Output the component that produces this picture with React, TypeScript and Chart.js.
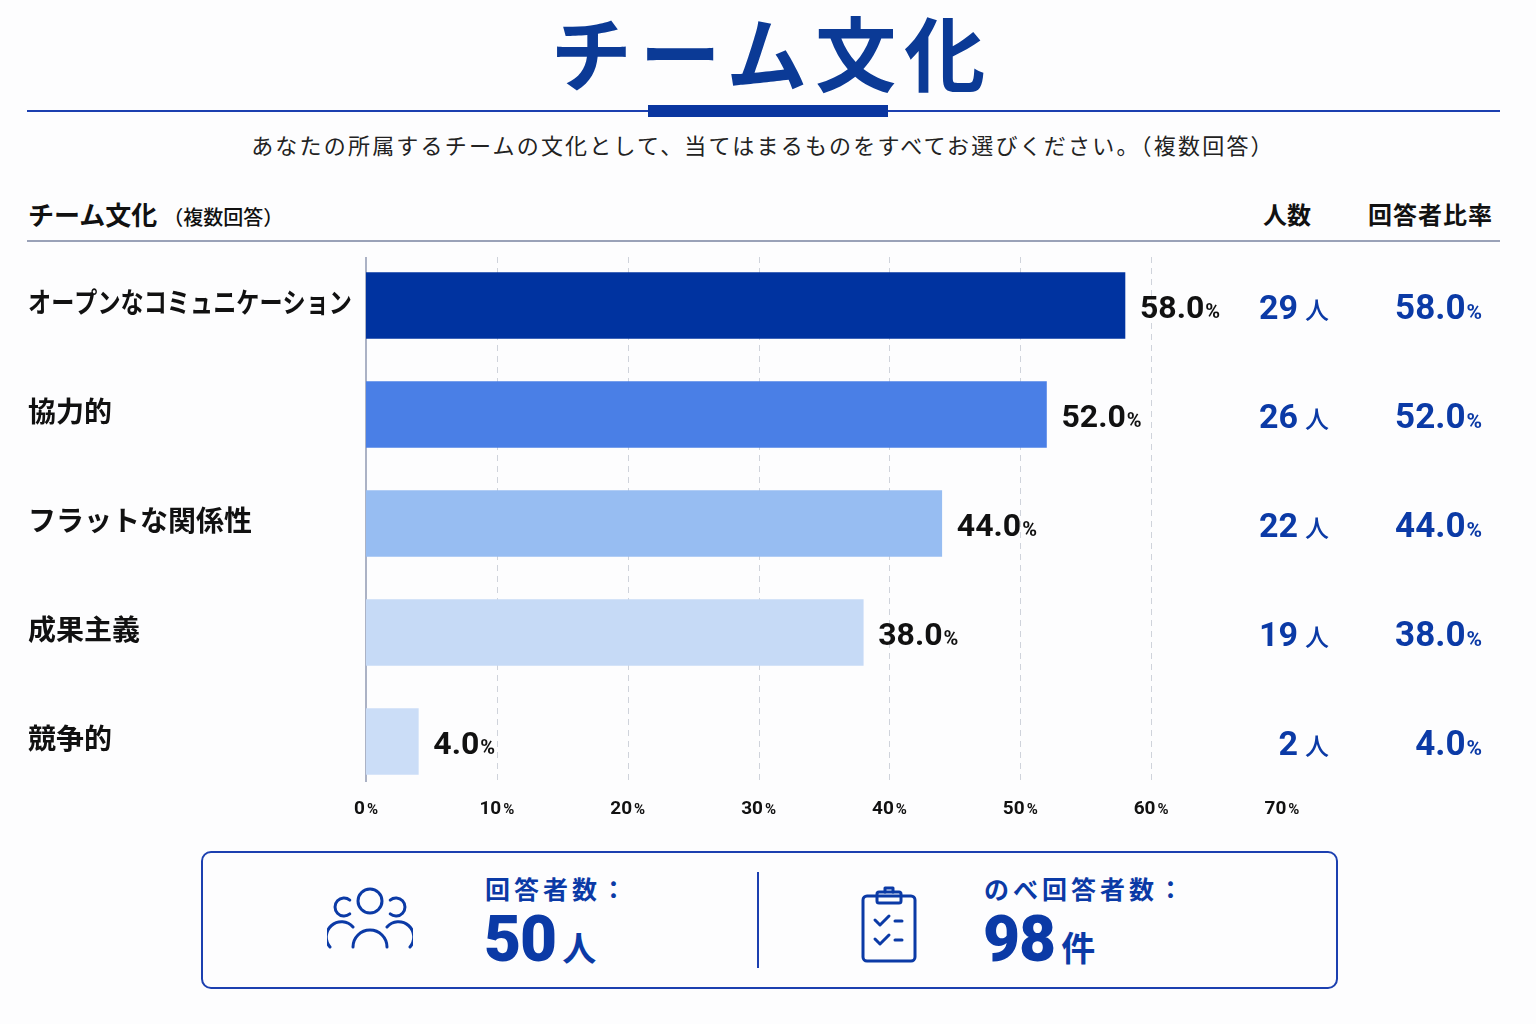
import React, { useEffect, useRef } from "react";
import { Chart, registerables } from "chart.js";

Chart.register(...registerables);

const categories = ["オープンなコミュニケーション", "協力的", "フラットな関係性", "成果主義", "競争的"];
const percents = [58.0, 52.0, 44.0, 38.0, 4.0];
const counts = [29, 26, 22, 19, 2];
const barColors = ["#0033A0", "#4A7FE6", "#97BDF2", "#C6DAF6", "#CBDDF7"];
const xTicks = [0, 10, 20, 30, 40, 50, 60, 70];
const totalRespondents = 50;
const totalAnswers = 98;

const JP = '"Noto Sans CJK JP", "Noto Sans", sans-serif';
const NUM = 'Roboto, "DejaVu Sans", sans-serif';
const BLUE = "#0B3AA6";

// draws "58.0" + small "%" on one baseline
function drawNumPct(ctx: CanvasRenderingContext2D, num: string, unit: string, x: number, y: number,
  align: "left" | "right" | "center", bigFont: string, smallFont: string, color: string, gap = 1) {
  ctx.font = bigFont;
  const w1 = ctx.measureText(num).width;
  ctx.font = smallFont;
  const w2 = ctx.measureText(unit).width;
  const total = w1 + gap + w2;
  const start = align === "left" ? x : align === "right" ? x - total : x - total / 2;
  ctx.fillStyle = color;
  ctx.textAlign = "left";
  ctx.textBaseline = "alphabetic";
  ctx.font = bigFont;
  ctx.fillText(num, start, y);
  ctx.font = smallFont;
  ctx.fillText(unit, start + w1 + gap, y);
}

const overlayPlugin = {
  id: "overlay",
  beforeDatasetsDraw(chart: any) {
    const { ctx, chartArea, scales } = chart;
    const xs = scales.x;
    const ys = scales.y;
    const top = chartArea.top + 6;
    const bottom = chartArea.bottom - 14;
    ctx.save();
    ctx.strokeStyle = "#cfd3db";
    ctx.lineWidth = 1;
    ctx.setLineDash([6, 5]);
    xTicks.forEach((t) => {
      if (t === 0 || t === 70) return;
      const px = Math.round(xs.getPixelForValue(t)) + 0.5;
      ctx.beginPath();
      ctx.moveTo(px, top);
      ctx.lineTo(px, bottom);
      ctx.stroke();
    });
    ctx.setLineDash([]);
    ctx.strokeStyle = "#8f98b2";
    ctx.lineWidth = 1.5;
    const x0 = xs.getPixelForValue(0);
    ctx.beginPath();
    ctx.moveTo(x0, top);
    ctx.lineTo(x0, bottom);
    ctx.stroke();
    // x tick labels
    xTicks.forEach((t) => {
      drawNumPct(ctx, String(t), "%", xs.getPixelForValue(t), chartArea.bottom + 18,
        "center", `700 19px ${NUM}`, `700 15px ${NUM}`, "#111", 2);
    });
    // category labels, squeezed when longer than the label column
    const maxW = x0 - 28 - 14;
    categories.forEach((c, i) => {
      const y = ys.getPixelForValue(i) - 3;
      ctx.font = `700 28px ${JP}`;
      const w = ctx.measureText(c).width;
      const k = w > maxW ? maxW / w : 1;
      ctx.save();
      ctx.translate(28, y);
      ctx.scale(k, 1);
      ctx.fillStyle = "#111";
      ctx.textAlign = "left";
      ctx.textBaseline = "middle";
      ctx.fillText(c, 0, 0);
      ctx.restore();
    });
    ctx.restore();
  },
  afterDatasetsDraw(chart: any) {
    const { ctx } = chart;
    const meta = chart.getDatasetMeta(0);
    ctx.save();
    meta.data.forEach((bar: any, i: number) => {
      const y = bar.y;
      drawNumPct(ctx, percents[i].toFixed(1), "%", bar.x + 15, y + 12,
        "left", `700 32px ${NUM}`, `700 20px ${NUM}`, "#111");
      // 人数 column
      ctx.font = `500 24px ${JP}`;
      ctx.fillStyle = BLUE;
      ctx.textAlign = "right";
      ctx.textBaseline = "alphabetic";
      ctx.fillText("人", 1329, y + 13);
      ctx.font = `700 34px ${NUM}`;
      ctx.fillText(String(counts[i]), 1298, y + 13);
      // 回答者比率 column
      drawNumPct(ctx, percents[i].toFixed(1), "%", 1482, y + 13,
        "right", `700 35px ${NUM}`, `700 21px ${NUM}`, BLUE);
    });
    ctx.restore();
  },
};

function PeopleIcon() {
  return (
    <svg width="86" height="62" viewBox="0 0 86 62" fill="none" stroke={BLUE} strokeWidth="3" strokeLinecap="round">
      <circle cx="43" cy="14" r="12" />
      <path d="M26 60 A17 17 0 0 1 60 60" />
      <path d="M22.8 13.1 A9 9 0 1 0 22.8 26.9" />
      <path d="M63.2 13.1 A9 9 0 1 1 63.2 26.9" />
      <path d="M3 60 A14 14 0 0 1 26 40" />
      <path d="M83 60 A14 14 0 0 0 60 40" />
    </svg>
  );
}

function ClipboardIcon() {
  return (
    <svg width="58" height="80" viewBox="0 0 58 80" fill="none" stroke={BLUE} strokeWidth="3" strokeLinecap="round" strokeLinejoin="round">
      <rect x="3" y="12" width="52" height="65" rx="4" />
      <rect x="17" y="8" width="24" height="11" rx="2" />
      <path d="M25 8 V4 H33 V8" />
      <path d="M15 36 l5 5 l9 -9" />
      <path d="M35 37 h7" />
      <path d="M15 55 l5 5 l9 -9" />
      <path d="M35 56 h7" />
    </svg>
  );
}

export default function App() {
  const canvasRef = useRef<HTMLCanvasElement | null>(null);
  const chartRef = useRef<Chart | null>(null);

  useEffect(() => {
    document.body.style.margin = "0";
    if (!canvasRef.current) return;
    if (chartRef.current) {
      chartRef.current.destroy();
      chartRef.current = null;
    }
    const ctx = canvasRef.current.getContext("2d");
    if (!ctx) return;

    chartRef.current = new Chart(ctx, {
      type: "bar",
      data: {
        labels: categories,
        datasets: [
          {
            data: percents,
            backgroundColor: barColors,
            borderWidth: 0,
            barThickness: 66,
          },
        ],
      },
      options: {
        indexAxis: "y",
        responsive: false,
        animation: false,
        layout: { padding: { left: 28, right: 254, top: 251, bottom: 198 } },
        plugins: { legend: { display: false }, tooltip: { enabled: false } },
        scales: {
          x: {
            min: 0,
            max: 70,
            grid: { display: false },
            border: { display: false },
            ticks: { display: false, stepSize: 10 },
            afterFit: (scale: any) => {
              scale.height = 30;
            },
          },
          y: {
            grid: { display: false },
            border: { display: false },
            ticks: { display: false },
            afterFit: (scale: any) => {
              scale.width = 338;
            },
          },
        },
      },
      plugins: [overlayPlugin],
    });

    return () => {
      if (chartRef.current) {
        chartRef.current.destroy();
        chartRef.current = null;
      }
    };
  }, []);

  return (
    <div style={{ position: "relative", width: 1536, height: 1024, background: "#fdfdfe", fontFamily: JP, overflow: "hidden" }}>
      {/* title */}
      <div style={{ position: "absolute", left: 0, top: 4, width: 1536, textAlign: "center", fontSize: 81, lineHeight: "92px", fontWeight: 700, letterSpacing: 8, paddingLeft: 8, color: "#0B3A96", boxSizing: "border-box" }}>
        チーム文化
      </div>
      <div style={{ position: "absolute", left: 27, top: 110, width: 1473, height: 2, background: "#1C40B0" }} />
      <div style={{ position: "absolute", left: 648, top: 105, width: 240, height: 12, background: "#0A36A0" }} />
      <div style={{ position: "absolute", left: 0, top: 129, width: 1526, textAlign: "center", fontSize: 22, lineHeight: "30px", letterSpacing: 2.2, color: "#222" }}>
        あなたの所属するチームの文化として、当てはまるものをすべてお選びください。（複数回答）
      </div>

      {/* header row */}
      <div style={{ position: "absolute", left: 28, top: 197, fontSize: 26, lineHeight: "34px", fontWeight: 700, color: "#111", whiteSpace: "nowrap" }}>
        チーム文化<span style={{ fontSize: 20, fontWeight: 500, marginLeft: 6 }}>（複数回答）</span>
      </div>
      <div style={{ position: "absolute", left: 1263, top: 198, fontSize: 24, lineHeight: "32px", fontWeight: 700, color: "#111" }}>人数</div>
      <div style={{ position: "absolute", left: 1368, top: 198, fontSize: 24, lineHeight: "32px", fontWeight: 700, color: "#111", letterSpacing: 1 }}>回答者比率</div>
      <div style={{ position: "absolute", left: 27, top: 240, width: 1473, height: 2, background: "#9aa2b8" }} />

      <canvas ref={canvasRef} width={1536} height={1024} style={{ position: "absolute", left: 0, top: 0, width: 1536, height: 1024 }} />

      {/* summary box */}
      <div style={{ position: "absolute", left: 201, top: 851, width: 1137, height: 138, boxSizing: "border-box", border: "2px solid #1C40B0", borderRadius: 10, background: "#fdfdfe" }}>
        <div style={{ position: "absolute", left: 124, top: 34 }}>
          <PeopleIcon />
        </div>
        <div style={{ position: "absolute", left: 282, top: 18, fontSize: 25, lineHeight: "34px", fontWeight: 700, color: BLUE, letterSpacing: 4 }}>回答者数：</div>
        <div style={{ position: "absolute", left: 281, top: 52, color: BLUE, whiteSpace: "nowrap" }}>
          <span style={{ fontFamily: NUM, fontSize: 64, lineHeight: "70px", fontWeight: 900, letterSpacing: -1 }}>{totalRespondents}</span>
          <span style={{ fontSize: 34, fontWeight: 700, marginLeft: 6 }}>人</span>
        </div>
        <div style={{ position: "absolute", left: 554, top: 19, width: 2, height: 96, background: "#1C40B0" }} />
        <div style={{ position: "absolute", left: 657, top: 31 }}>
          <ClipboardIcon />
        </div>
        <div style={{ position: "absolute", left: 781, top: 18, fontSize: 25, lineHeight: "34px", fontWeight: 700, color: BLUE, letterSpacing: 4 }}>のべ回答者数：</div>
        <div style={{ position: "absolute", left: 780, top: 52, color: BLUE, whiteSpace: "nowrap" }}>
          <span style={{ fontFamily: NUM, fontSize: 64, lineHeight: "70px", fontWeight: 900, letterSpacing: -1 }}>{totalAnswers}</span>
          <span style={{ fontSize: 34, fontWeight: 700, marginLeft: 6 }}>件</span>
        </div>
      </div>
    </div>
  );
}
